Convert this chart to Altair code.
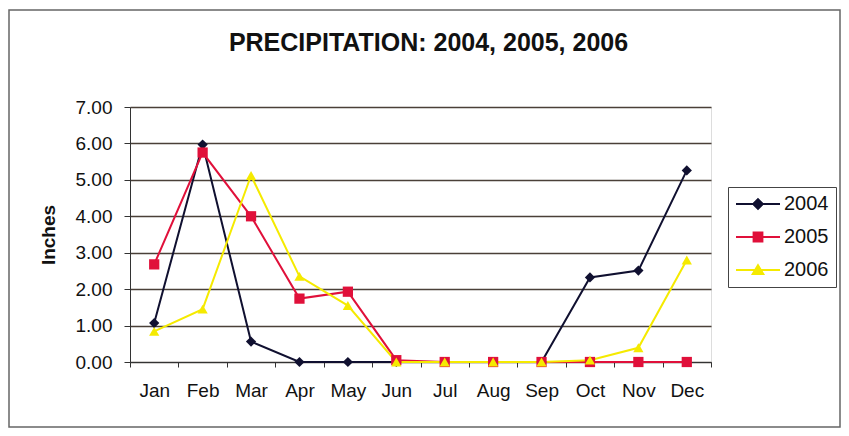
import altair as alt
import pandas as pd

months = ["Jan", "Feb", "Mar", "Apr", "May", "Jun", "Jul", "Aug", "Sep", "Oct", "Nov", "Dec"]
years = ["2004", "2005", "2006"]
p2004 = [1.07, 5.97, 0.56, 0.0, 0.0, 0.0, 0.0, 0.0, 0.0, 2.32, 2.51, 5.26]
p2005 = [2.68, 5.75, 4.00, 1.74, 1.93, 0.05, 0.0, 0.0, 0.0, 0.0, 0.0, 0.0]
p2006 = [0.84, 1.45, 5.12, 2.35, 1.55, 0.0, 0.0, 0.0, 0.0, 0.05, 0.39, 2.80]
colors = ["#101030", "#E0103A", "#F5EA00"]
point_shapes = ["diamond", "square", "triangle-up"]
legend_shapes = [
    "M-1,0H1M0,-0.22L0.22,0L0,0.22L-0.22,0Z",
    "M-1,0H1M-0.2,-0.2H0.2V0.2H-0.2Z",
    "M-1,0H1M0,-0.22L0.24,0.18H-0.24Z",
]

rows = []
for yr, vals in zip(years, [p2004, p2005, p2006]):
    for m, v in zip(months, vals):
        rows.append({"Month": m, "Year": yr, "Inches": v})
df = pd.DataFrame(rows)

FONT = "Liberation Sans"

x_enc = alt.X(
    "Month:O",
    sort=months,
    scale=alt.Scale(type="band", paddingInner=0, paddingOuter=0),
    bandPosition=0.5,
    axis=alt.Axis(
        title=None, labelAngle=0, tickBand="extent", tickSize=5,
        labelFontSize=19, labelPadding=14, labelColor="#111",
        domainColor="#333", tickColor="#333", grid=False,
        labelFont=FONT,
    ),
)
y_enc = alt.Y(
    "Inches:Q",
    scale=alt.Scale(domain=[0, 7], nice=False),
    axis=alt.Axis(
        title="Inches", values=[0, 1, 2, 3, 4, 5, 6, 7], format=".2f",
        labelFontSize=19, labelPadding=12, tickSize=6, labelColor="#111",
        titleFontSize=19, titleFontWeight="bold", titlePadding=17,
        titleColor="#111", gridColor="#4a4038", gridWidth=1.6,
        domainColor="#333", tickColor="#333",
        labelFont=FONT, titleFont=FONT,
    ),
)
color_scale = alt.Scale(domain=years, range=colors)

base = alt.Chart(df)
line_layers = []
point_layers = []
for yr, shp, col in zip(years, point_shapes, colors):
    sub = base.transform_filter(alt.datum.Year == yr)
    line_layers.append(sub.mark_line(strokeWidth=2, color=col).encode(x=x_enc, y=y_enc))
    point_layers.append(
        sub.mark_point(filled=True, size=105, opacity=1, shape=shp, color=col)
        .encode(x=x_enc, y=y_enc)
    )

leg = alt.Legend(
    title=None, orient="none", legendX=598, legendY=80,
    strokeColor="#444", padding=7, symbolSize=1936, clipHeight=20,
    rowPadding=13, symbolOpacity=1, symbolStrokeWidth=2,
    labelFontSize=20, labelFont=FONT, labelColor="#111",
    labelOffset=3, fillColor="white",
)
legend_layer = base.mark_point(filled=False, size=0).encode(
    x=x_enc, y=y_enc,
    color=alt.Color("Year:N", scale=color_scale, legend=leg),
    fill=alt.Fill("Year:N", scale=color_scale, legend=leg),
    shape=alt.Shape("Year:N", scale=alt.Scale(domain=years, range=legend_shapes), legend=leg),
)

frame = alt.Chart(pd.DataFrame({"a": [0]})).mark_rect(
    fill=None, stroke="#666", strokeWidth=1.5
).encode(
    x=alt.value(-121), x2=alt.value(710), y=alt.value(-97), y2=alt.value(320)
)

chart = alt.layer(frame, *line_layers, *point_layers, legend_layer).properties(
    width=581, height=255,
    autosize=alt.AutoSizeParams(type="none"),
    padding={"left": 122, "top": 99, "right": 130, "bottom": 66},
    title=alt.Title(
        "PRECIPITATION: 2004, 2005, 2006", fontSize=25, fontWeight="bold",
        font=FONT, color="#111", offset=-47, dx=8, frame="group",
    ),
).configure_view(fill="#C6B6A5", stroke="#555", strokeWidth=1.5).configure(background="white")

chart.save("out.html", embed_options={"renderer": "svg", "actions": False})
